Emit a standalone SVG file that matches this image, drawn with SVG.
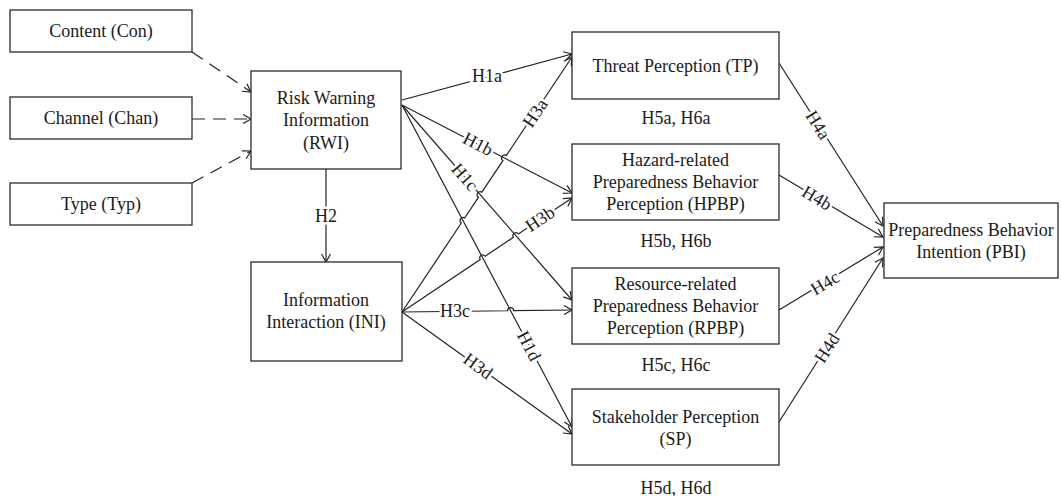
<svg xmlns="http://www.w3.org/2000/svg" width="1061" height="496" viewBox="0 0 1061 496">
<defs>
<style>
.box{fill:#fff;stroke:#2b2b2b;stroke-width:1.3}
.t{font-family:"Liberation Serif","Times New Roman",serif;font-size:18px;fill:#1a1a1a;text-anchor:middle}
.ln{fill:none;stroke:#222;stroke-width:1.2}
.dash{stroke-dasharray:13,8}
.lbl{font-family:"Liberation Serif","Times New Roman",serif;font-size:18px;fill:#1a1a1a;text-anchor:middle;dominant-baseline:central;stroke:#fff;stroke-width:5;paint-order:stroke;stroke-linejoin:round}
</style>
<marker id="arr" markerWidth="12" markerHeight="12" refX="10" refY="6" orient="auto" markerUnits="userSpaceOnUse">
<path d="M2,1.5 L10,6 L2,10.5" fill="none" stroke="#222" stroke-width="1.2"/>
</marker>
</defs>
<rect width="1061" height="496" fill="#fff"/>

<g id="connectors">
<line class="ln dash" x1="192" y1="52" x2="251" y2="92" marker-end="url(#arr)"/>
<line class="ln dash" x1="192" y1="119" x2="251" y2="119" marker-end="url(#arr)"/>
<line class="ln dash" x1="192" y1="183" x2="251" y2="151" marker-end="url(#arr)"/>
<line class="ln" x1="326" y1="169" x2="326" y2="262" marker-end="url(#arr)"/>
<line class="ln" x1="402" y1="100" x2="572" y2="54" marker-end="url(#arr)"/>
<line class="ln" x1="402" y1="105" x2="572" y2="193" marker-end="url(#arr)"/>
<line class="ln" x1="402" y1="105" x2="572" y2="300" marker-end="url(#arr)"/>
<line class="ln" x1="402" y1="105" x2="572" y2="427" marker-end="url(#arr)"/>
<path class="ln" d="M402,312 L461.34,222.99 A3,3 0 0 1 464.66,218.0 L478.54,197.2 A3,3 0 0 1 481.86,192.2 L502.94,160.6 A3,3 0 0 1 506.26,155.6 L572,57" marker-end="url(#arr)"/>
<path class="ln" d="M402,312 L480.21,259.57 A3,3 0 0 1 485.19,256.23 L513.41,237.27 A3,3 0 0 1 518.39,233.93 L572,198" marker-end="url(#arr)"/>
<path class="ln" d="M402,312 L507.6,310.74 A3,3 0 0 1 513.6,310.66 L572,310" marker-end="url(#arr)"/>
<line class="ln" x1="402" y1="312" x2="572" y2="434" marker-end="url(#arr)"/>
<line class="ln" x1="779" y1="63" x2="883" y2="226" marker-end="url(#arr)"/>
<line class="ln" x1="779" y1="175" x2="883" y2="237" marker-end="url(#arr)"/>
<line class="ln" x1="779" y1="310" x2="883" y2="247" marker-end="url(#arr)"/>
<line class="ln" x1="779" y1="422" x2="883" y2="258" marker-end="url(#arr)"/>

<text class="lbl" x="326" y="216">H2</text>
<text class="lbl" x="487" y="76">H1a</text>
<text class="lbl" transform="translate(478,144) rotate(27.4)">H1b</text>
<text class="lbl" transform="translate(465,177) rotate(48.9)">H1c</text>
<text class="lbl" transform="translate(529,346) rotate(62.2)">H1d</text>
<text class="lbl" transform="translate(535,113) rotate(-56.3)">H3a</text>
<text class="lbl" transform="translate(540,219) rotate(-33.8)">H3b</text>
<text class="lbl" x="455" y="311">H3c</text>
<text class="lbl" transform="translate(478,366) rotate(35.7)">H3d</text>
<text class="lbl" transform="translate(818,125) rotate(57.5)">H4a</text>
<text class="lbl" transform="translate(817,198) rotate(30.8)">H4b</text>
<text class="lbl" transform="translate(825,283) rotate(-31)">H4c</text>
<text class="lbl" transform="translate(827,348) rotate(-57.4)">H4d</text>
</g>

<g id="con"><rect class="box" x="10" y="10" width="182" height="42"/><text class="t" x="101" y="37">Content (Con)</text></g>
<g id="chan"><rect class="box" x="10" y="97" width="182" height="42"/><text class="t" x="101" y="124">Channel (Chan)</text></g>
<g id="typ"><rect class="box" x="10" y="183" width="182" height="42"/><text class="t" x="101" y="210">Type (Typ)</text></g>
<g id="rwi"><rect class="box" x="251" y="71" width="150" height="98"/><text class="t" x="326" y="104">Risk Warning</text><text class="t" x="326" y="126">Information</text><text class="t" x="326" y="149">(RWI)</text></g>
<g id="ini"><rect class="box" x="251" y="262" width="151" height="99"/><text class="t" x="326" y="306">Information</text><text class="t" x="326" y="328">Interaction (INI)</text></g>
<g id="tp"><rect class="box" x="572" y="32" width="207" height="67"/><text class="t" x="675.5" y="72">Threat Perception (TP)</text></g>
<g id="hpbp"><rect class="box" x="572" y="144" width="207" height="76"/><text class="t" x="675.5" y="166">Hazard-related</text><text class="t" x="675.5" y="188">Preparedness Behavior</text><text class="t" x="675.5" y="210">Perception (HPBP)</text></g>
<g id="rpbp"><rect class="box" x="572" y="268" width="207" height="76"/><text class="t" x="675.5" y="290">Resource-related</text><text class="t" x="675.5" y="312">Preparedness Behavior</text><text class="t" x="675.5" y="334">Perception (RPBP)</text></g>
<g id="sp"><rect class="box" x="572" y="389" width="207" height="76"/><text class="t" x="675.5" y="423">Stakeholder Perception</text><text class="t" x="675.5" y="445">(SP)</text></g>
<g id="pbi"><rect class="box" x="884" y="203" width="174" height="75"/><text class="t" x="971" y="236">Preparedness Behavior</text><text class="t" x="971" y="258">Intention (PBI)</text></g>

<g id="mediators">
<text class="t" x="676" y="124">H5a, H6a</text>
<text class="t" x="676" y="247">H5b, H6b</text>
<text class="t" x="676" y="371">H5c, H6c</text>
<text class="t" x="676" y="494">H5d, H6d</text>
</g>
</svg>
